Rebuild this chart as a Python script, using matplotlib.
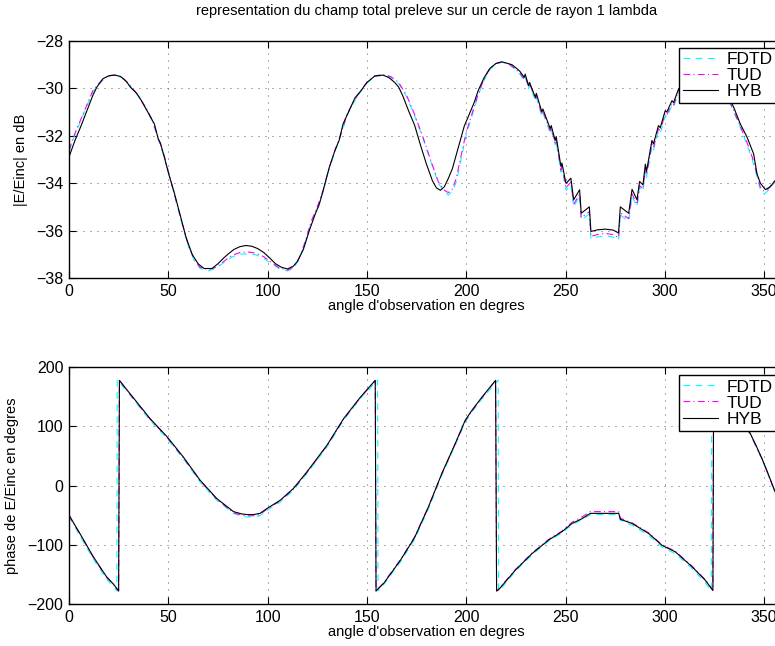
import matplotlib
matplotlib.use("Agg")
import matplotlib.pyplot as plt

plt.rcParams['font.family'] = ['Liberation Sans', 'DejaVu Sans']

# ---- amplitude |E/Einc| (dB) ----
amp_angle_hyb = [0, 3, 6, 9, 12, 14, 17, 20, 23, 26, 29, 31, 34, 36, 39, 41, 43, 45, 46, 48,
                 50, 53, 56, 59, 62, 65, 68, 72, 75, 78, 80, 83, 86, 89, 92, 95, 98, 101, 104, 107,
                 110, 113, 115, 118, 121, 124, 126, 128, 131, 134, 136, 138, 141, 144, 147, 150,
                 154, 158, 161, 164, 166, 168, 171, 174, 177, 180, 183, 185, 187, 189, 191, 193,
                 196, 199, 202, 204, 206, 209, 212, 215, 218, 221, 223, 224.5, 226, 227.2,
                 229.2, 229.7, 231.4, 231.9, 234.8, 235.3, 238.1, 238.6, 242.3, 242.8, 244.8, 245.3,
                 247.7, 248.2, 250.2, 250.4, 252.7, 254.1, 257.1, 257.9, 262.0, 262.8, 266, 270, 274,
                 276.7, 277.6, 281.8, 283.5, 286.0, 287.3, 289.0, 290.2, 290.8, 293.5, 294.3, 296.8,
                 297.7, 300.2, 301.0, 303.6, 304.4, 306.9, 310, 315, 320, 325, 330, 334.7, 338,
                 341.4, 344.7, 346.4, 348.1, 350.6, 353.1, 355.7, 360]
amp_hyb = [-32.9, -32.2, -31.6, -30.95, -30.3, -29.95, -29.6, -29.47, -29.44, -29.5, -29.72, -29.96,
           -30.2, -30.45, -30.9, -31.2, -31.5, -32.15, -32.3, -32.9,
           -33.55, -34.4, -35.35, -36.3, -37.0, -37.4, -37.6, -37.6, -37.4, -37.15, -37.0, -36.8,
           -36.68, -36.63, -36.66, -36.76, -36.92, -37.15, -37.4, -37.55,
           -37.62, -37.5, -37.3, -36.8, -36.0, -35.3, -34.9, -34.3, -33.35, -32.6, -32.2, -31.5,
           -30.95, -30.4, -30.1, -29.75,
           -29.48, -29.44, -29.54, -29.75, -29.95, -30.3, -30.95, -31.55, -32.4, -33.2, -33.9,
           -34.2, -34.3, -34.15, -33.8, -33.4,
           -32.5, -31.6, -31.0, -30.6, -30.1, -29.55, -29.15, -28.95, -28.88, -28.95, -29.0,
           -29.1, -29.2, -29.3,
           -29.54, -29.4, -29.89, -29.75, -30.38, -30.21, -31.0, -30.87, -31.7, -31.57, -32.2,
           -32.03,
           -33.3, -33.15, -34.0, -34.0, -33.79, -34.7, -34.28, -35.27, -35.0, -36.04, -35.97,
           -35.94, -35.98,
           -36.1, -35.0, -35.27, -34.26, -34.7, -33.93, -34.07, -33.2, -33.5, -32.2, -32.34, -31.57,
           -31.66, -30.94, -31.0, -30.52, -30.6, -30.03, -29.7, -29.35, -29.3, -29.5, -30.0, -30.8,
           -31.5,
           -32.06, -32.76, -33.6, -34.0, -34.27, -34.15, -33.87, -33.4]

amp_angle_ref = [0, 3, 6, 9, 12, 15, 18, 21, 24, 27, 30, 33, 36, 39, 42, 45, 48, 51, 54, 57,
                 60, 63, 66, 70, 74, 78, 82, 86, 90, 94, 98, 102, 106, 110, 113, 116, 119, 122,
                 125, 128, 131, 134, 137, 140, 143, 146, 150, 154, 158, 162, 166, 170, 174, 178,
                 182, 186, 189, 191, 193, 195, 197, 200, 203, 206, 209, 212, 215, 218, 221, 224,
                 227, 229.2, 229.7, 231.4, 231.9, 234.8, 235.3, 238.1, 238.6, 242.3, 242.8,
                 244.8, 245.3, 247.7, 248.2, 250.3, 252.7, 254.1, 257.1, 257.9, 262.0, 262.8,
                 266, 270, 274, 276.7, 277.6, 281.8, 283.5, 286.0, 287.3, 289.0, 290.2, 290.8,
                 293.5, 294.3, 296.8, 297.7, 300.2, 301.0, 303.6, 304.4, 306.9, 310, 315, 320,
                 325, 330, 334, 338, 341, 344, 346, 348, 350, 352, 355, 360]
amp_tud = [-32.6, -31.9, -31.3, -30.7, -30.1, -29.8, -29.55, -29.45, -29.44, -29.55, -29.8,
           -30.1, -30.45, -30.85, -31.35, -32.1, -32.85, -33.8, -34.75, -35.7,
           -36.6, -37.2, -37.55, -37.65, -37.55, -37.3, -37.05, -36.93, -36.9, -36.95, -37.1,
           -37.35, -37.58, -37.67, -37.55, -37.15, -36.45, -35.6,
           -35.0, -34.3, -33.35, -32.6, -31.9, -31.1, -30.6, -30.2, -29.75, -29.47, -29.42,
           -29.5, -29.75, -30.3, -31.1, -32.0,
           -33.0, -33.95, -34.3, -34.4, -34.25, -33.8, -33.0, -31.85, -31.05, -30.25, -29.6,
           -29.15, -28.95, -28.88, -28.95, -29.12,
           -29.35, -29.6, -29.45, -29.95, -29.8, -30.45, -30.3, -31.1, -30.95, -31.8, -31.65,
           -32.3, -32.15, -33.45, -33.3, -34.2, -33.95, -34.9, -34.45, -35.45, -35.2, -36.25,
           -36.17, -36.12, -36.17, -36.3, -35.25, -35.5, -34.45, -34.9, -34.1, -34.25, -33.35,
           -33.65,
           -32.35, -32.5, -31.7, -31.8, -31.05, -31.12, -30.62, -30.7, -30.1, -29.75, -29.4,
           -29.35,
           -29.6, -30.1, -30.8, -31.6, -32.2, -32.9, -33.5, -34.15, -34.35, -34.25, -33.95, -33.4]
amp_fdtd = [-32.65, -31.95, -31.35, -30.75, -30.15, -29.82, -29.57, -29.46, -29.45, -29.56,
            -29.82, -30.12, -30.47, -30.88, -31.4, -32.15, -32.9, -33.85, -34.8, -35.75,
            -36.65, -37.25, -37.6, -37.7, -37.6, -37.35, -37.12, -37.0, -36.98, -37.02, -37.17,
            -37.4, -37.62, -37.7, -37.6, -37.2, -36.5, -35.65,
            -35.05, -34.35, -33.4, -32.65, -31.95, -31.15, -30.65, -30.25, -29.78, -29.5, -29.45,
            -29.55, -29.8, -30.35, -31.15, -32.05,
            -33.05, -34.0, -34.38, -34.5, -34.35, -33.95, -33.15, -31.95, -31.15, -30.3, -29.65,
            -29.2, -28.98, -28.9, -28.97, -29.15,
            -29.4, -29.68, -29.52, -30.02, -29.87, -30.52, -30.37, -31.18, -31.03, -31.88,
            -31.73, -32.38, -32.23, -33.53, -33.38, -34.3, -34.05, -35.0, -34.55, -35.55, -35.3,
            -36.35, -36.27, -36.22, -36.27, -36.4, -35.35, -35.6, -34.55, -35.0, -34.2, -34.35,
            -33.45, -33.75,
            -32.45, -32.6, -31.8, -31.9, -31.15, -31.22, -30.72, -30.8, -30.2, -29.82, -29.45,
            -29.4,
            -29.65, -30.15, -30.85, -31.65, -32.3, -33.0, -33.6, -34.25, -34.45, -34.32, -34.0,
            -33.45]

# ---- phase of E/Einc (degrees) ----
ph_angle_hyb = [0, 5.5, 12.2, 18.9, 22.3, 25.0, 25.4, 30, 34.1, 40.8, 49.2, 57.6, 66, 74.4,
                82.8, 87, 89.5, 93, 96.2, 99.6, 106.3, 113, 119.8, 129.9, 138.3, 146.7, 154.2,
                154.6, 158.5, 166.9, 174, 181, 187.7, 194.5, 199.5, 202.9, 207.9, 214.8, 215.3,
                216.3, 224.7, 233.1, 241.5, 248.2, 253.3, 258.3, 262.5, 270, 276.8, 277.6, 283.5,
                291.9, 298.6, 305.3, 313.7, 320.4, 324.2, 324.6, 330, 335, 340, 343, 346, 349,
                352, 355.7, 360]
ph_hyb = [-50, -81, -120, -154, -166, -178, 177.5, 158, 141, 113, 83, 48, 9, -22,
          -44, -48, -49, -49, -47, -39, -25, -5, 23, 68, 113, 149, 177.5,
          -178, -165, -126, -88, -36, 20, 71, 110, 127, 149, 177.5, -178,
          -176, -143, -115, -92, -78, -64, -56, -47, -47, -47, -57, -64,
          -81, -101, -112, -137, -160, -177, 178, 152, 128, 104, 88, 67, 45,
          20, -12, -48]
ph_tud = [-50, -82, -121, -155, -167, -178, 177, 157, 140, 112, 82, 47, 8, -23,
          -46, -50, -51, -51, -49, -40, -26, -6, 22, 67, 112, 148, 177,
          -178, -164, -125, -87, -36, 20, 70, 109, 126, 148, 177, -178,
          -175, -142, -114, -91, -77, -62, -53, -44, -44, -44, -55, -63,
          -80, -100, -111, -136, -159, -177, 178, 151, 127, 103, 87, 66, 44,
          19, -13, -48]
ph_angle_fdtd = [0, 5.5, 12.2, 18.9, 22.3, 24.1, 24.3, 30, 34.1, 40.8, 49.2, 57.6, 66, 74.4,
                 82.8, 87, 89.5, 93, 96.2, 99.6, 106.3, 113, 119.8, 129.9, 138.3, 146.7, 155.4,
                 155.6, 158.5, 166.9, 174, 181, 187.7, 194.5, 199.5, 202.9, 207.9, 216.1, 216.3,
                 217.3, 224.7, 233.1, 241.5, 248.2, 253.3, 258.3, 262.5, 270, 276.8, 277.6, 283.5,
                 291.9, 298.6, 305.3, 313.7, 320.4, 323.4, 323.6, 330, 335, 340, 343, 346, 349,
                 352, 355.7, 360]
ph_fdtd = [-52, -85, -124, -158, -170, -178, 178, 156, 138, 110, 80, 45, 6, -25,
           -47, -52, -53, -53, -51, -42, -28, -8, 20, 65, 110, 147, 178,
           -178, -167, -129, -91, -39, 17, 68, 107, 124, 146, 178, -178,
           -175, -145, -117, -94, -80, -66, -58, -49, -49, -49, -59, -67,
           -84, -104, -115, -140, -164, -178, 178, 150, 126, 102, 86, 65, 43,
           18, -14, -50]

fig = plt.figure(figsize=(7.75, 6.46), dpi=100)
fig.patch.set_facecolor('white')

ax1 = fig.add_axes([0.089, 0.5697, 0.9226, 0.3669])
ax2 = fig.add_axes([0.089, 0.065, 0.9226, 0.3669])

lw = 0.8
for ax in (ax1, ax2):
    ax.grid(True, color='#555555', linestyle=(0, (1, 6.2)), linewidth=0.7)
    ax.tick_params(direction='in', top=True, right=True, length=5, width=0.8,
                   labelsize=11.5, pad=4)
    for s in ax.spines.values():
        s.set_linewidth(1.0)
    ax.set_xlim(0, 360)
    ax.set_xticks(range(0, 400, 50))
    ax.set_xlabel("angle d'observation en degres", fontsize=10.5, labelpad=0)

ax1.plot(amp_angle_ref, amp_fdtd, color='cyan', linestyle=(0, (6, 5)), linewidth=lw, label='FDTD')
ax1.plot(amp_angle_ref, amp_tud, color='magenta', linestyle=(0, (6, 3, 1, 3)), linewidth=lw, label='TUD')
ax1.plot(amp_angle_hyb, amp_hyb, color='black', linestyle='-', linewidth=lw, label='HYB')
ax1.set_ylim(-38, -28)
ax1.set_yticks(range(-38, -27, 2))
ax1.set_ylabel('|E/Einc| en dB', fontsize=10.5, labelpad=6)
ax1.set_title('representation du champ total preleve sur un cercle de rayon 1 lambda',
              fontsize=10.5, pad=19)

ax2.plot(ph_angle_fdtd, ph_fdtd, color='cyan', linestyle=(0, (6, 5)), linewidth=lw, label='FDTD')
ax2.plot(ph_angle_hyb, ph_tud, color='magenta', linestyle=(0, (6, 3, 1, 3)), linewidth=lw, label='TUD')
ax2.plot(ph_angle_hyb, ph_hyb, color='black', linestyle='-', linewidth=lw, label='HYB')
ax2.set_ylim(-200, 200)
ax2.set_yticks(range(-200, 201, 100))
ax2.set_ylabel('phase de E/Einc en degres', fontsize=10.5, labelpad=6)

for ax, top in ((ax1, 0.972), (ax2, 0.966)):
    leg = ax.legend(loc='upper left', bbox_to_anchor=(0.853, top), fontsize=12.5,
                    fancybox=False, framealpha=1, edgecolor='black', borderpad=0.25,
                    labelspacing=0.05, handlelength=2.0, handletextpad=0.5, borderaxespad=0)
    leg.get_frame().set_linewidth(1.0)

fig.savefig('out.png', dpi=100)
